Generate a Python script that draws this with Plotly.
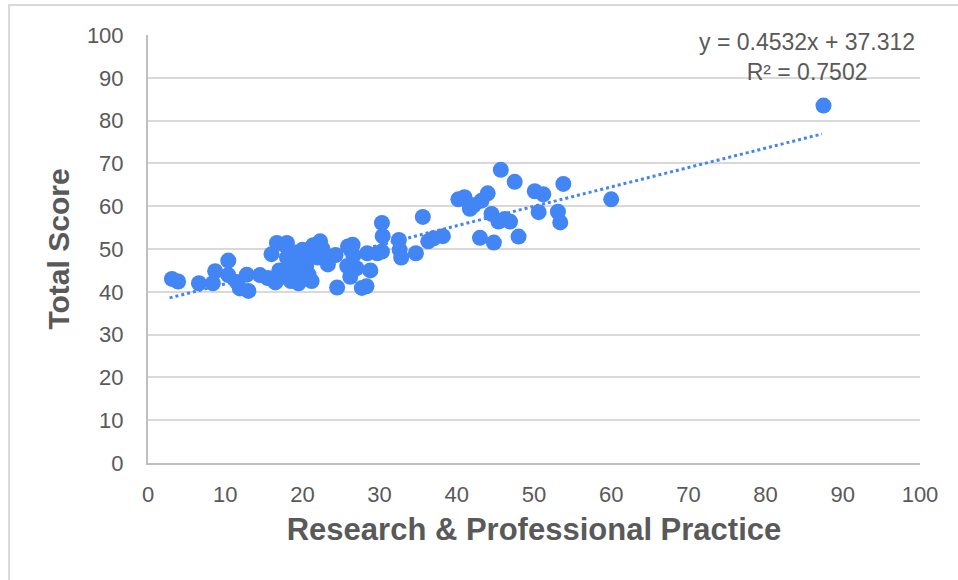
import plotly.graph_objects as go

# Data
research_practice = [
    3.1, 3.9, 6.6, 8.4, 8.7, 10.4, 10.4, 11.5, 11.9, 13.0, 12.8, 14.5, 15.5,
    16.0, 16.5, 16.7, 17.0, 17.5, 17.7, 18.0, 18.0, 18.3, 18.5, 18.8, 19.0,
    19.2, 19.5, 19.8, 20.0, 20.3, 20.5, 20.8, 21.2, 21.4, 21.0, 22.0, 22.3,
    22.6, 23.3, 23.6, 24.3, 24.5, 25.8, 25.9, 26.2, 26.5, 26.6, 27.0, 27.7,
    28.3, 28.4, 28.8, 29.7, 30.3, 30.4, 30.3, 32.5, 32.6, 32.8, 34.7, 35.6,
    36.3, 37.0, 38.2, 40.2, 41.0, 41.7, 42.2, 43.2, 43.0, 44.0, 44.5, 44.8,
    45.4, 45.7, 46.2, 46.9, 47.5, 48.0, 50.1, 50.6, 51.2, 53.1, 53.4, 53.8,
    60.0, 87.5,
]
total_score = [
    43.0, 42.4, 42.0, 42.0, 44.8, 47.3, 43.9, 42.3, 40.8, 40.2, 44.0, 43.9, 43.2,
    48.8, 42.2, 51.4, 45.0, 43.5, 50.9, 51.4, 48.0, 46.0, 42.5, 44.0, 49.2,
    47.0, 42.0, 45.5, 49.8, 48.0, 46.0, 44.0, 42.5, 50.9, 49.0, 48.0, 51.8,
    50.0, 46.4, 48.0, 48.6, 41.0, 46.0, 50.6, 43.5, 51.0, 48.5, 45.5, 40.9,
    41.3, 49.0, 45.0, 49.0, 56.1, 53.0, 49.4, 52.1, 49.8, 48.0, 49.0, 57.5,
    51.8, 52.5, 53.0, 61.6, 62.1, 59.4, 60.2, 61.3, 52.6, 63.0, 58.2, 51.5,
    56.4, 68.5, 57.0, 56.4, 65.7, 52.9, 63.5, 58.6, 62.8, 58.7, 56.2, 65.2,
    61.6, 83.5,
]

# Linear trendline shown on the chart
trend_slope = 0.4532
trend_intercept = 37.312
trend_r2 = 0.7502
trend_x = [min(research_practice) - 0.3, max(research_practice) - 0.2]
trend_y = [trend_slope * v + trend_intercept for v in trend_x]

axis_ticks = [0, 10, 20, 30, 40, 50, 60, 70, 80, 90, 100]

BLUE = "#4285f4"
TEXT = "#595959"
GRID = "#d9d9d9"
FONT = "Liberation Sans, Arial, sans-serif"

fig = go.Figure()
fig.add_trace(go.Scatter(
    x=trend_x, y=trend_y, mode="lines",
    line=dict(color=BLUE, width=3, dash="dot"),
    hoverinfo="skip", showlegend=False,
))
fig.add_trace(go.Scatter(
    x=research_practice, y=total_score, mode="markers",
    marker=dict(color=BLUE, size=16, line=dict(width=0)),
    showlegend=False,
))

fig.add_annotation(
    xref="x", yref="y", x=85.3, y=94.8, yanchor="middle", xanchor="center",
    text=f"y = {trend_slope}x + {trend_intercept}<br>R² = {trend_r2}",
    showarrow=False, align="center",
    font=dict(family=FONT, size=23, color=TEXT),
)

# outer chart-area border
fig.add_shape(
    type="rect", xref="paper", yref="paper",
    x0=-0.1800, x1=1.0583, y0=-0.2967, y1=1.0701,
    line=dict(color=GRID, width=2), fillcolor="rgba(0,0,0,0)", layer="below",
)

fig.update_layout(
    width=958, height=580,
    margin=dict(l=148, r=38, t=35, b=117),
    paper_bgcolor="white", plot_bgcolor="white",
    font=dict(family=FONT, color=TEXT),
)
fig.update_xaxes(
    range=[0, 100], tickvals=axis_ticks, showgrid=False,
    showline=True, linecolor="#bfbfbf", linewidth=2,
    ticks="", ticklabelstandoff=11,
    tickfont=dict(family=FONT, size=22, color=TEXT),
    title=dict(text="<b>Research & Professional Practice</b>", standoff=12,
               font=dict(family=FONT, size=31, color=TEXT)),
    zeroline=False, fixedrange=True,
)
fig.update_yaxes(
    range=[0, 100], tickvals=axis_ticks, showgrid=True, gridcolor=GRID, gridwidth=2,
    showline=True, linecolor="#bfbfbf", linewidth=2,
    ticks="", ticklabelstandoff=18,
    tickfont=dict(family=FONT, size=22, color=TEXT),
    title=dict(text="<b>Total Score</b>", standoff=8,
               font=dict(family=FONT, size=30, color=TEXT)),
    zeroline=False, fixedrange=True,
)

fig.write_html("out.html")
